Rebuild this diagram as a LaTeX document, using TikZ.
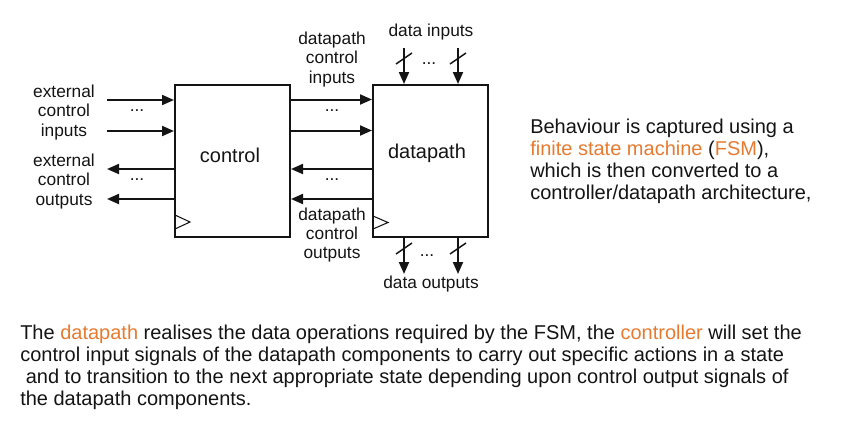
\documentclass[tikz,border=0pt]{standalone}
\usepackage{fontspec}
\setmainfont{Liberation Sans}
\usetikzlibrary{arrows.meta}
\definecolor{orng}{RGB}{232,122,48}
\definecolor{ink}{RGB}{20,20,20}
\newcommand\lblsize{\fontsize{13}{14.6}\selectfont}
\newcommand\bigsize{\fontsize{15}{16.5}\selectfont}
\tikzset{
  blk/.style={draw=ink, line width=1.5pt, rectangle, inner sep=0pt,
    minimum width=86.25pt, minimum height=114pt},
  arr/.style={draw=ink, line width=1.5pt, -{Triangle[length=9pt,width=7.5pt]}},
  bus/.style={draw=ink, line width=1.1pt},
  lbl/.style={align=center, font=\lblsize, text=ink, inner sep=0pt},
  dots/.style={font=\lblsize, text=ink, inner sep=0pt},
  para/.style={align=left, font=\bigsize, text=ink, inner sep=0pt},
}
\begin{document}
\begin{tikzpicture}[x=0.75pt,y=-0.75pt]
\useasboundingbox (0,0) rectangle (856,440);
% blocks
\node[blk] (ctrl) at (232.5,161) {};
\node[blk] (dp) at (430.5,161) {};
\node[font=\bigsize, text=ink] (ctrltxt) at (230,155) {control};
\node[font=\bigsize, text=ink] (dptxt) at (427,153) {datapath};
% clock triangles
\draw[ink, line width=0.8pt] (175,215) -- (190,222) -- (175,229);
\draw[ink, line width=0.8pt] (373,216) -- (388,222.5) -- (373,229);
% external control inputs / outputs
\coordinate (ei1) at (107,100);
\coordinate (ei2) at (107,131);
\coordinate (eo1) at (107,169);
\coordinate (eo2) at (107,199);
\draw[arr] (ei1) -- (ei1 -| ctrl.west);
\draw[arr] (ei2) -- (ei2 -| ctrl.west);
\draw[arr] (eo1 -| ctrl.west) -- (eo1);
\draw[arr] (eo2 -| ctrl.west) -- (eo2);
\node[dots] (d1) at (137,111) {...};
\node[dots] (d2) at (137,180) {...};
\node[lbl] (eci) at (64,112.5) {external\\control\\inputs};
\node[lbl] (eco) at (64,181.5) {external\\control\\outputs};
% datapath control inputs / outputs
\coordinate (ci1) at (0,99.5);
\coordinate (ci2) at (0,130.5);
\coordinate (co1) at (0,169);
\coordinate (co2) at (0,199);
\draw[arr] (ci1 -| ctrl.east) -- (ci1 -| dp.west);
\draw[arr] (ci2 -| ctrl.east) -- (ci2 -| dp.west);
\draw[arr] (co1 -| dp.west) -- (co1 -| ctrl.east);
\draw[arr] (co2 -| dp.west) -- (co2 -| ctrl.east);
\node[dots] (d3) at (332,111) {...};
\node[dots] (d4) at (332,180) {...};
\node[lbl] (dci) at (332,59.5) {datapath\\control\\inputs};
\node[lbl] (dco) at (332,235) {datapath\\control\\outputs};
% data inputs
\coordinate (di1) at (404,48);
\coordinate (di2) at (458,48);
\draw[arr] (di1) -- (di1 |- dp.north);
\draw[arr] (di2) -- (di2 |- dp.north);
\draw[bus] (396,64) -- (412,53);
\draw[bus] (450,64) -- (466,53);
\node[dots] (d5) at (429,64) {...};
\node[lbl] (dil) at (431,32) {data inputs};
% data outputs
\coordinate (do1) at (404,274);
\coordinate (do2) at (458,274);
\draw[arr] (do1 |- dp.south) -- (do1);
\draw[arr] (do2 |- dp.south) -- (do2);
\draw[bus] (396,254) -- (412,243);
\draw[bus] (450,254) -- (466,243);
\node[dots] (d6) at (427,256) {...};
\node[lbl] (dol) at (431,284) {data outputs};
% right text
\node[para, anchor=west] (rt) at (530,161.5) {Behaviour is captured using a\\
\textcolor{orng}{finite state machine} (\textcolor{orng}{FSM}),\\
which is then converted to a\\
controller/datapath architecture,};
% bottom text
\node[para, anchor=west] (bt) at (20,367) {The \textcolor{orng}{datapath} realises the data operations required by the FSM, the \textcolor{orng}{controller} will set the\\
control input signals of the datapath components to carry out specific actions in a state\\
\hspace*{0.278em}and to transition to the next appropriate state depending upon control output signals of\\
the datapath components.};
\end{tikzpicture}
\end{document}
